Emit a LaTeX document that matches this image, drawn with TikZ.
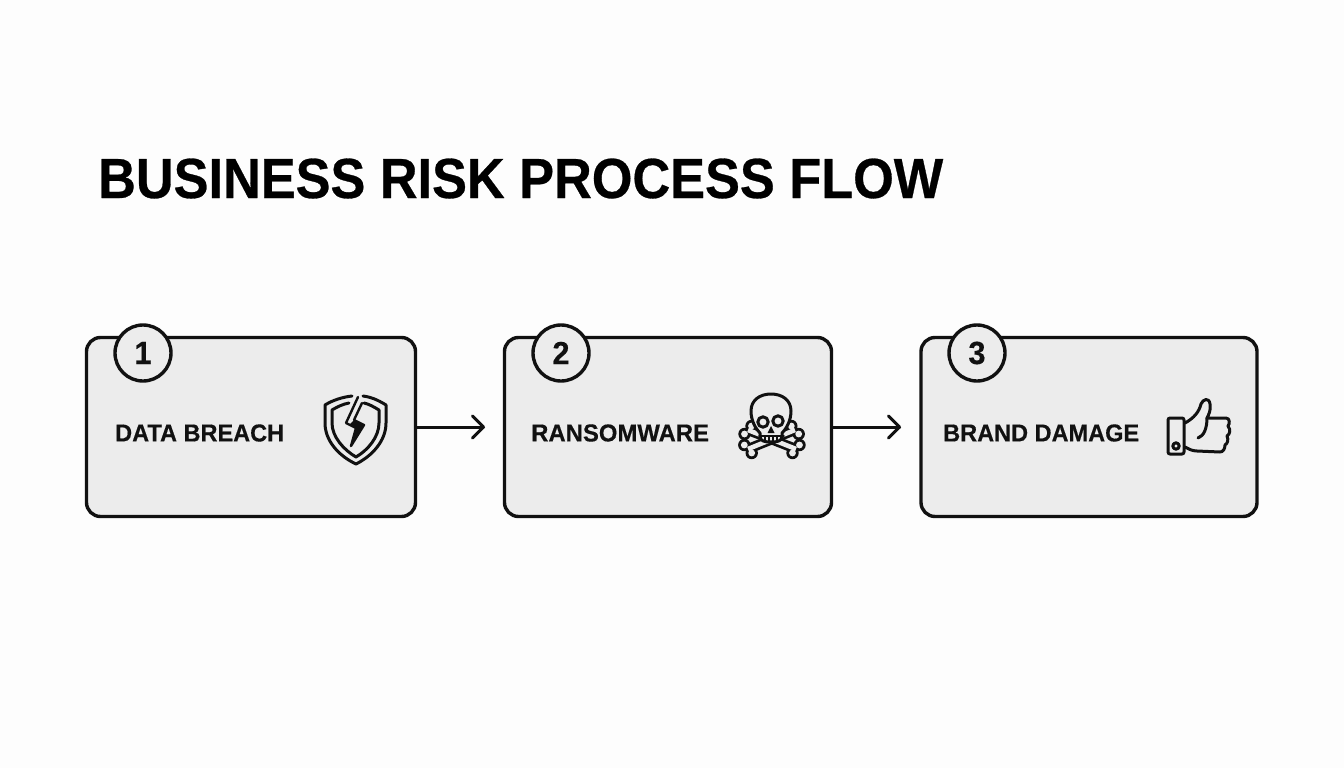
\documentclass[tikz,border=0pt]{standalone}
\usepackage{fontspec}
\setmainfont{Liberation Sans}
\newfontfamily\titlefont[FakeStretch=0.925,FakeBold=0.5]{Liberation Sans Bold}
\newfontfamily\labelfont[FakeStretch=0.96,FakeBold=0.4]{Liberation Sans Bold}
\newfontfamily\ranfont[FakeStretch=0.975,FakeBold=0.4]{Liberation Sans Bold}
\definecolor{boxfill}{HTML}{ECECEC}
\definecolor{ink}{HTML}{111111}
\definecolor{paper}{HTML}{FDFDFD}
\newcommand{\bonepath}[6]{%
  \draw[ink,line width=10pt] (#1,#2) -- (#3,#4);
  \fill[ink] (#1+#5,#2+#6) circle (6.2pt) (#1-#5,#2-#6) circle (6.2pt)
             (#3+#5,#4+#6) circle (6.2pt) (#3-#5,#4-#6) circle (6.2pt);
  \fill[boxfill] (#1+#5,#2+#6) circle (3.4pt) (#1-#5,#2-#6) circle (3.4pt)
             (#3+#5,#4+#6) circle (3.4pt) (#3-#5,#4-#6) circle (3.4pt);
  \draw[boxfill,line width=4.6pt] (#1,#2) -- (#3,#4);
}
\tikzset{
  x=1pt,y=-1pt,
  stagebox/.style={draw=ink,fill=boxfill,line width=3.4pt,rounded corners=14pt,inner sep=0pt},
  badge/.style={circle,draw=ink,fill=boxfill,line width=3.4pt,minimum size=56pt,inner sep=0pt,font=\labelfont\fontsize{32}{32}\selectfont,text=ink},
  stagelabel/.style={anchor=west,inner sep=0pt,font=\labelfont\fontsize{24.5}{24.5}\selectfont,text=ink},
  flow/.style={draw=ink,line width=3pt,line cap=round,line join=round},
  icon/.style={draw=ink,line width=3pt,line join=round,line cap=round},
}
\begin{document}
\begin{tikzpicture}
\useasboundingbox (0,0) rectangle (1344,768);
\fill[paper] (0,0) rectangle (1344,768);
\node[anchor=base west,inner sep=0pt,font=\titlefont\fontsize{56.5}{56.5}\selectfont,text=black] (title) at (98,198) {BUSINESS RISK PROCESS FLOW};

\node[stagebox,minimum width=329pt,minimum height=179pt] (box1) at (251,427) {};
\node[stagebox,minimum width=327pt,minimum height=179pt] (box2) at (668,427) {};
\node[stagebox,minimum width=336pt,minimum height=179pt] (box3) at (1089,427) {};

\node[badge] (n1) at (143,353) {1};
\node[badge] (n2) at (561,353) {2};
\node[badge] (n3) at (977,353) {3};

\node[stagelabel] (l1) at (115,433) {DATA BREACH};
\node[stagelabel,font=\ranfont\fontsize{24.5}{24.5}\selectfont] (l2) at (531,433) {RANSOMWARE};
\node[stagelabel] (l3) at (943,433) {BRAND DAMAGE};

\coordinate (a1) at (483.5,427);
\coordinate (a2) at (899.5,427);
\draw[flow] (box1.east) -- (a1);
\draw[flow] ([shift={(-11,-11)}]a1) -- (a1) -- ([shift={(-11,11)}]a1);
\draw[flow] (box2.east) -- (a2);
\draw[flow] ([shift={(-11,-11)}]a2) -- (a2) -- ([shift={(-11,11)}]a2);

% shield
\draw[icon] (352,396) .. controls (343,397) and (333,400) .. (325,405) -- (325,423) .. controls (325,441) and (339,456) .. (356,464) .. controls (372,456) and (386,441) .. (386,423) -- (386,405) .. controls (378,400) and (371,397) .. (363,396);
\draw[icon] (349,403) .. controls (343,404) and (337,407) .. (332,410) -- (332,423) .. controls (332,437) and (344,450) .. (356,457) .. controls (368,450) and (379,437) .. (379,423) -- (379,410) .. controls (374,407) and (369,404) .. (364,403);
\draw[icon,fill=boxfill,line width=2.4pt,miter limit=10] (358,397) -- (346,423) -- (356,428) -- (351,446) -- (364,425) -- (354,420) -- (362,403);
\fill[ink] (350,424) -- (356,428) -- (351,446) -- (364,425) -- (354,420) -- cycle;

% skull
\bonepath{748}{430}{796}{449}{3.5}{-4}
\bonepath{795}{430}{748}{449}{3.7}{4}
\draw[icon,fill=boxfill] (760,433) .. controls (755,428) and (751,420) .. (751,411) .. controls (751,400) and (760,394) .. (771,394) .. controls (782,394) and (791,400) .. (791,411) .. controls (791,420) and (787,428) .. (782,433) -- (782,437) .. controls (781,441) and (778,442) .. (771,442) .. controls (764,442) and (761,441) .. (760,437) -- cycle;
\draw[icon] (763,422) circle (5.2pt);
\draw[icon] (778,421) circle (5.2pt);
\fill[ink] (771,426) -- (767.5,433) -- (774.5,433) -- cycle;
\draw[icon,line width=1.5pt] (759,436) -- (784,436) (765,436) -- (765,441) (769,436) -- (769,441) (773,436) -- (773,441) (777,436) -- (777,441);

% thumb
\draw[icon,fill=boxfill] (1185,423) .. controls (1194,418) and (1199,412) .. (1201,404) .. controls (1203,399) and (1209,397) .. (1210,404) .. controls (1211,410) and (1209,414) .. (1207,418) -- (1226,418) .. controls (1230,418) and (1230,424) .. (1228,426) .. controls (1231,430) and (1230,434) .. (1227,436) .. controls (1229,440) and (1227,444) .. (1225,445) .. controls (1225,449) and (1223,452) .. (1220,452) -- (1197,451) .. controls (1192,451) and (1189,449) .. (1185,447);
\draw[icon] (1207,418) .. controls (1207,428) and (1204,436) .. (1198,438);
\draw[icon,rounded corners=2pt] (1168,418) rectangle (1184,454);
\draw[icon] (1176,446) circle (3.2pt);
\end{tikzpicture}
\end{document}
